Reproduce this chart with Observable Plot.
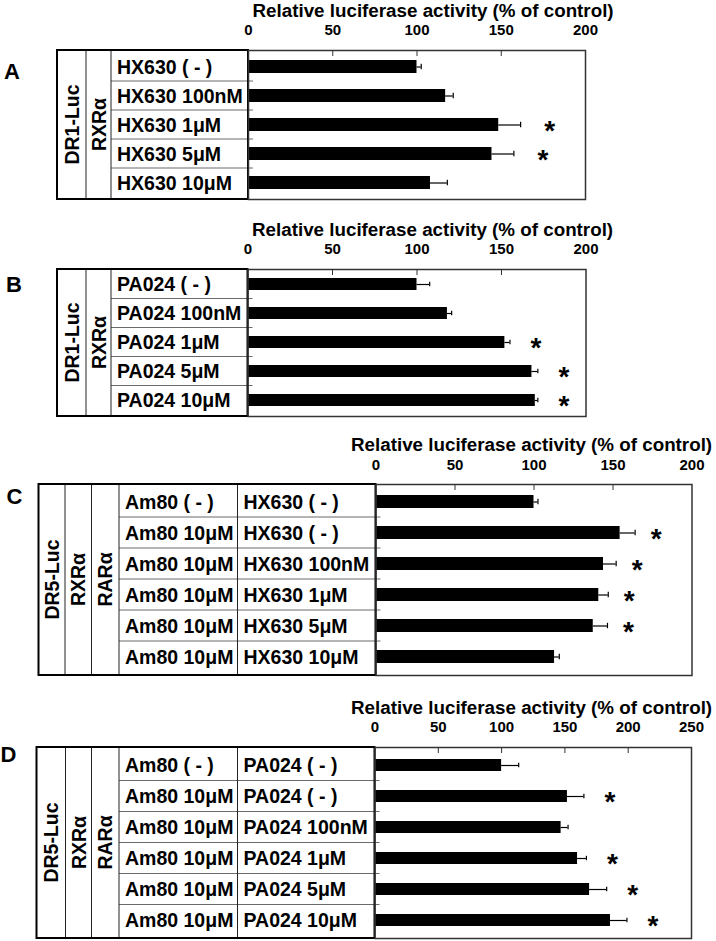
<!DOCTYPE html>
<html><head><meta charset="utf-8">
<script src="https://cdn.jsdelivr.net/npm/d3@7"></script>
<script src="https://cdn.jsdelivr.net/npm/@observablehq/plot@0.6"></script>
<style>
body{margin:0;background:#fff;}
#wrap{position:relative;width:716px;height:941px;overflow:hidden;background:#fff;}
#wrap > svg{position:absolute;left:0;}
</style></head><body><div id="wrap"></div>
<script>
const FONT = "'Liberation Sans', Arial, Helvetica, sans-serif";
const axisTitle = "Relative luciferase activity (% of control)";
const xTicks200 = [0, 50, 100, 150, 200];
const xTicks250 = [0, 50, 100, 150, 200, 250];
const innerTicks200 = [50, 100, 150];
const innerTicks250 = [50, 100, 150, 200];

// Panel A
const aHeaders = ["DR1-Luc", "RXRα"];
const aLigand = ["HX630 ( - )", "HX630 100nM", "HX630 1μM", "HX630 5μM", "HX630 10μM"];
const aValues = [100, 117, 148.5, 144.5, 108];
const aErrors = [2.5, 4.5, 13, 13, 10];
const aSig = [false, false, true, true, false];

// Panel B
const bHeaders = ["DR1-Luc", "RXRα"];
const bLigand = ["PA024 ( - )", "PA024 100nM", "PA024 1μM", "PA024 5μM", "PA024 10μM"];
const bValues = [100, 118, 152, 168, 170];
const bErrors = [7.5, 2.5, 3, 3.5, 1.5];
const bSig = [false, false, true, true, true];

// Panel C
const cHeaders = ["DR5-Luc", "RXRα", "RARα"];
const cAm80 = ["Am80 ( - )", "Am80 10μM", "Am80 10μM", "Am80 10μM", "Am80 10μM", "Am80 10μM"];
const cLigand = ["HX630 ( - )", "HX630 ( - )", "HX630 100nM", "HX630 1μM", "HX630 5μM", "HX630 10μM"];
const cValues = [100, 154.5, 144, 141, 137.5, 113];
const cErrors = [2.5, 9.5, 8, 6, 9, 3];
const cSig = [false, true, true, true, true, false];

// Panel D
const dHeaders = ["DR5-Luc", "RXRα", "RARα"];
const dAm80 = ["Am80 ( - )", "Am80 10μM", "Am80 10μM", "Am80 10μM", "Am80 10μM", "Am80 10μM"];
const dLigand = ["PA024 ( - )", "PA024 ( - )", "PA024 100nM", "PA024 1μM", "PA024 5μM", "PA024 10μM"];
const dValues = [100, 152, 147, 160, 169.5, 186];
const dErrors = [13.5, 13, 5.5, 7, 13.5, 13];
const dSig = [false, true, false, true, true, true];

const panels = [
  {letter: "A", headers: aHeaders, labelCols: [aLigand], values: aValues, errors: aErrors, sig: aSig, domain: [0, 200], ticks: xTicks200, inner: innerTicks200,
   L: {top: 0, height: 200, mt: 50, mb: 1, ml: 248, mr: 131, cols: [-191, -162, -137, 0], letterX: 4, letterDy: 21.5, starDx: 29, pad: 0.55, titleDx: 4, cap: 3.7, tickDy: 20}},
  {letter: "B", headers: bHeaders, labelCols: [bLigand], values: bValues, errors: bErrors, sig: bSig, domain: [0, 200], ticks: xTicks200, inner: innerTicks200,
   L: {top: 200, height: 220, mt: 69, mb: 4, ml: 247.5, mr: 130.5, cols: [-190.5, -161.5, -136.5, 0], letterX: 6, letterDy: 15.5, starDx: 26, pad: 0.57, titleDx: 4, cap: 3.7, tickDy: 20}},
  {letter: "C", headers: cHeaders, labelCols: [cAm80, cLigand], values: cValues, errors: cErrors, sig: cSig, domain: [0, 200], ticks: xTicks200, inner: innerTicks200,
   L: {top: 420, height: 260, mt: 64, mb: 5, ml: 375.5, mr: 24.5, cols: [-337, -310.5, -284, -256.5, -138, 0], letterX: 6.5, letterDy: 12.5, starDx: 21, pad: 0.58, titleDx: -25, cap: 3.8, tickDy: 19}},
  {letter: "D", headers: dHeaders, labelCols: [dAm80, dLigand], values: dValues, errors: dErrors, sig: dSig, domain: [0, 250], ticks: xTicks250, inner: innerTicks250,
   L: {top: 680, height: 261, mt: 67, mb: 3, ml: 374.5, mr: 25, cols: [-338, -309, -283, -255.5, -137, 0], letterX: 0.5, letterDy: 7.5, starDx: 26, pad: 0.6, titleDx: -24, cap: 3.8, tickDy: 20}}
];

const LABEL_SIZE = 19.5;

function tableMark(p) {
  const L = p.L;
  return (index, scales, values, dims) => {
    const y = scales.y;
    const n = p.values.length;
    const top = dims.marginTop, bottom = dims.height - dims.marginBottom;
    const step = y.step ? y.step() : (bottom - top) / n;
    const half = y.bandwidth ? y.bandwidth() / 2 : 0;
    const xs = L.cols.map(c => dims.marginLeft + c);
    const g = d3.create("svg:g").attr("font-family", FONT).attr("font-weight", "bold")
      .attr("fill", "black").style("text-anchor", "start");
    // header (rotated) columns
    p.headers.forEach((h, k) => {
      const cx = (xs[k] + xs[k + 1]) / 2;
      g.append("text")
        .attr("transform", `translate(${cx},${(top + bottom) / 2}) rotate(-90)`)
        .style("text-anchor", "middle").attr("dy", "0.36em").style("font-size", LABEL_SIZE + "px")
        .text(h);
    });
    // row separators
    const firstLabel = xs[p.headers.length];
    for (let i = 1; i < n; i++) {
      const yy = y(i) + half - step / 2;
      g.append("line").attr("x1", firstLabel).attr("x2", dims.marginLeft + 5)
        .attr("y1", yy).attr("y2", yy).attr("stroke", "#6a6a6a").attr("stroke-width", 1);
    }
    // row labels
    p.labelCols.forEach((col, k) => {
      const x = xs[p.headers.length + k] + 6;
      col.forEach((t, i) => {
        g.append("text").attr("x", x).attr("y", y(i) + half).attr("dy", "0.36em")
          .style("text-anchor", "start").style("font-size", LABEL_SIZE + "px").text(t);
      });
    });
    // inner vertical lines
    for (let k = 1; k < xs.length - 1; k++) {
      g.append("line").attr("x1", xs[k]).attr("x2", xs[k]).attr("y1", top).attr("y2", bottom)
        .attr("stroke", "#222").attr("stroke-width", 1);
    }
    // outer border
    g.append("rect").attr("x", xs[0]).attr("y", top).attr("width", xs[xs.length - 1] - xs[0]).attr("height", bottom - top)
      .attr("fill", "none").attr("stroke", "black").attr("stroke-width", 2);
    // panel letter
    g.append("text").attr("x", L.letterX).attr("y", top + L.letterDy).attr("dy", "0.36em")
      .style("text-anchor", "start").style("font-size", "22px").text(p.letter);
    return g.node();
  };
}

const wrap = document.getElementById("wrap");
for (const p of panels) {
  const L = p.L;
  const rows = p.values.map((v, i) => ({i, v, e: p.errors[i], sig: p.sig[i]}));
  const chart = Plot.plot({
    width: 716, height: L.height,
    marginTop: L.mt, marginBottom: L.mb, marginLeft: L.ml, marginRight: L.mr,
    style: {fontFamily: FONT, background: "transparent", overflow: "visible", color: "black"},
    x: {domain: p.domain, nice: false},
    y: {domain: rows.map(d => d.i), paddingInner: L.pad, paddingOuter: L.pad / 2, axis: null},
    marks: [
      Plot.barX(rows, {x: "v", y: "i", fill: "black"}),
      Plot.ruleY(rows, {x1: "v", x2: d => d.v + d.e, y: "i", stroke: "black", strokeWidth: 1.2}),
      Plot.tickX(rows, {x: d => d.v + d.e, y: "i", stroke: "black", strokeWidth: 1.2, insetTop: L.cap, insetBottom: L.cap}),
      Plot.text(rows.filter(d => d.sig), {x: d => d.v + d.e, y: "i", text: () => "*", dx: L.starDx, dy: 6,
        fontSize: 28, fontWeight: "bold", fill: "black"}),
      tableMark(p),
      Plot.axisX({anchor: "top", ticks: p.ticks, tickSize: 0, tickPadding: L.tickDy - 4, fontSize: 15, fontWeight: "bold", label: null, fill: "black"}),
      Plot.axisX({anchor: "top", ticks: p.inner, tickSize: -5, tickFormat: () => "", label: null, stroke: "#333"}),
      Plot.frame({stroke: "#333", strokeWidth: 1.5}),
      Plot.text([axisTitle], {text: d => d, frameAnchor: "top-left", textAnchor: "start", lineAnchor: "middle", dx: L.titleDx, dy: -40,
        fontSize: 18.8, fontWeight: "bold", fill: "black"})
    ]
  });
  chart.style.top = L.top + "px";
  wrap.appendChild(chart);
}
</script></body></html>
